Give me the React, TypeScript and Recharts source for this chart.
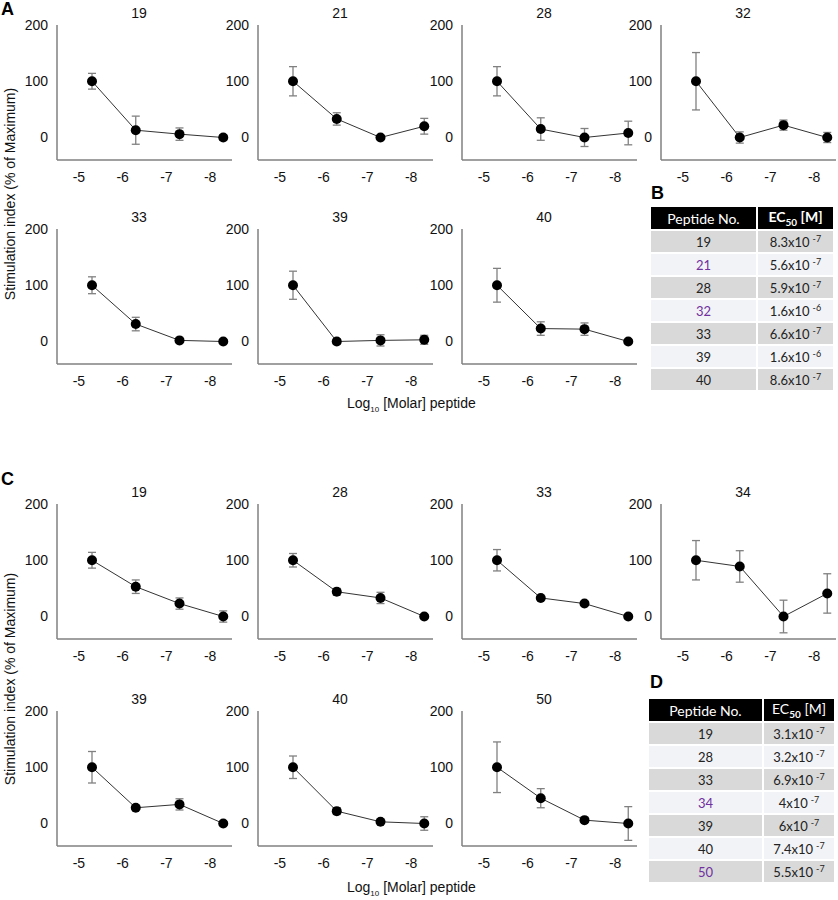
import React from "react";
import { LineChart, Line, XAxis, YAxis, ErrorBar } from "recharts";

// log10 molar concentrations, same for every panel
const logConc = [-5.3, -6.3, -7.3, -8.3];
const xTicks = [-5, -6, -7, -8];
const yTicks = [0, 100, 200];

// panel A
const titlesA = ["19", "21", "28", "32", "33", "39", "40"];
const valuesA = [
  [100, 13, 6, 0],
  [100, 33, 0, 20],
  [100, 15, 0, 8],
  [100, 0, 22, 0],
  [100, 31, 2, 0],
  [100, 0, 2, 3],
  [100, 23, 22, 0],
];
const errorsA = [
  [14, 25, 11, 5],
  [26, 11, 0, 14],
  [26, 20, 16, 21],
  [51, 10, 9, 9],
  [15, 12, 0, 0],
  [25, 5, 10, 8],
  [30, 12, 11, 0],
];

// panel C
const titlesC = ["19", "28", "33", "34", "39", "40", "50"];
const valuesC = [
  [100, 53, 23, 0],
  [100, 44, 33, 0],
  [100, 33, 23, 0],
  [100, 89, 0, 41],
  [100, 28, 34, 0],
  [100, 22, 3, 0],
  [100, 45, 6, 0],
];
const errorsC = [
  [14, 12, 10, 10],
  [12, 6, 10, 0],
  [19, 0, 0, 0],
  [35, 28, 29, 35],
  [28, 0, 10, 0],
  [20, 6, 0, 12],
  [45, 17, 4, 30],
];

// tables B and D
const peptidesB = ["19", "21", "28", "32", "33", "39", "40"];
const mantissaB = ["8.3", "5.6", "5.9", "1.6", "6.6", "1.6", "8.6"];
const exponentB = ["-7", "-7", "-7", "-6", "-7", "-6", "-7"];
const highlightB = ["21", "32"];

const peptidesD = ["19", "28", "33", "34", "39", "40", "50"];
const mantissaD = ["3.1", "3.2", "6.9", "4", "6", "7.4", "5.5"];
const exponentD = ["-7", "-7", "-7", "-7", "-7", "-7", "-7"];
const highlightD = ["34", "50"];

const colX = [57, 258, 462, 661];
const rowTop = [24.5, 229, 504, 711];

const FONT = "'Liberation Sans', Arial, sans-serif";
const TABLE_FONT = "Lato, 'Open Sans', sans-serif";

function Panel({ title, values, errors, x0, y0 }) {
  const data = logConc.map((c, i) => ({ x: c, y: values[i], err: errors[i] }));
  const tick = { fill: "#111", fontSize: 14, fontFamily: FONT };
  return (
    <div style={{ position: "absolute", left: x0 - 40, top: y0 - 10 }}>
      <div
        style={{
          position: "absolute",
          left: 40 + 82 - 30,
          width: 60,
          top: -9,
          textAlign: "center",
          fontFamily: FONT,
          fontSize: 14,
          lineHeight: "14px",
          color: "#111",
        }}
      >
        {title}
      </div>
      <LineChart
        width={220}
        height={175}
        data={data}
        margin={{ top: 10, right: 5, bottom: 0, left: 0 }}
      >
        <XAxis
          dataKey="x"
          type="number"
          domain={[-8.5, -4.5]}
          reversed
          ticks={xTicks}
          tick={tick}
          tickLine={false}
          tickSize={6}
          tickMargin={6}
          height={30}
          axisLine={{ stroke: "#808080", strokeWidth: 1.5 }}
          interval={0}
        />
        <YAxis
          type="number"
          domain={[-40, 200]}
          ticks={yTicks}
          tick={tick}
          tickLine={false}
          tickSize={6}
          tickMargin={3}
          width={40}
          axisLine={{ stroke: "#808080", strokeWidth: 1.5 }}
          interval={0}
        />
        <Line
          dataKey="y"
          stroke="#333"
          strokeWidth={1}
          isAnimationActive={false}
          dot={{ r: 5, fill: "#000", stroke: "#000", strokeWidth: 0 }}
          activeDot={false}
        >
          <ErrorBar
            dataKey="err"
            direction="y"
            width={4}
            stroke="#808080"
            strokeWidth={1.3}
            isAnimationActive={false}
          />
        </Line>
      </LineChart>
    </div>
  );
}

function EcTable({ peptides, mantissa, exponent, highlight, left, top, widths, boldHeader }) {
  const cell = {
    borderRight: "2px solid #fff",
    borderBottom: "2px solid #fff",
    textAlign: "center" as const,
    padding: 0,
    height: 21,
    fontSize: 13,
    color: "#222",
  };
  return (
    <table
      style={{
        position: "absolute",
        left,
        top,
        borderCollapse: "collapse",
        fontFamily: TABLE_FONT,
        tableLayout: "fixed",
        width: widths[0] + widths[1],
      }}
    >
      <colgroup>
        <col style={{ width: widths[0] }} />
        <col style={{ width: widths[1] }} />
      </colgroup>
      <thead>
        <tr style={{ background: "#000", color: "#fff" }}>
          <th style={{ ...cell, color: "#fff", fontWeight: 400, fontSize: 14, height: 22 }}>
            Peptide No.
          </th>
          <th
            style={{
              ...cell,
              color: "#fff",
              fontWeight: boldHeader ? 700 : 400,
              fontSize: 14,
              height: 22,
              borderRight: "none",
            }}
          >
            EC
            <sub style={{ fontSize: 10, fontWeight: 700 }}>50</sub> [M]
          </th>
        </tr>
      </thead>
      <tbody>
        {peptides.map((p, i) => (
          <tr key={p} style={{ background: i % 2 === 0 ? "#d9d9d9" : "#f2f3f6" }}>
            <td style={{ ...cell, color: highlight.includes(p) ? "#7030a0" : "#222" }}>{p}</td>
            <td style={{ ...cell, borderRight: "none" }}>
              {mantissa[i]}x10
              <sup style={{ fontSize: 9, marginLeft: 3 }}>{exponent[i]}</sup>
            </td>
          </tr>
        ))}
      </tbody>
    </table>
  );
}

function SectionLabel({ text, left, top }) {
  return (
    <div
      style={{
        position: "absolute",
        left,
        top,
        fontFamily: FONT,
        fontWeight: 700,
        fontSize: 18,
        lineHeight: "18px",
        color: "#000",
      }}
    >
      {text}
    </div>
  );
}

function YLabel({ cy }) {
  return (
    <div
      style={{
        position: "absolute",
        left: 10 - 120,
        top: cy - 8,
        width: 240,
        textAlign: "center",
        transform: "rotate(-90deg)",
        fontFamily: FONT,
        fontSize: 14,
        lineHeight: "16px",
        color: "#111",
        whiteSpace: "nowrap",
      }}
    >
      Stimulation index (% of Maximum)
    </div>
  );
}

function XLabel({ top }) {
  return (
    <div
      style={{
        position: "absolute",
        left: 347,
        top,
        fontFamily: FONT,
        fontSize: 14,
        lineHeight: "16px",
        color: "#111",
        whiteSpace: "nowrap",
      }}
    >
      Log<sub style={{ fontSize: 8 }}>10</sub> [Molar] peptide
    </div>
  );
}

function grid(titles, values, errors, rows) {
  return titles.map((t, i) => {
    const r = rows[Math.floor(i / 4)];
    const c = colX[i % 4];
    return (
      <Panel key={t + "-" + i} title={t} values={values[i]} errors={errors[i]} x0={c} y0={r} />
    );
  });
}

export default function App() {
  return (
    <div
      style={{
        position: "absolute",
        left: 0,
        top: 0,
        width: 838,
        height: 900,
        background: "#fff",
        overflow: "hidden",
      }}
    >
      <SectionLabel text="A" left={1} top={0} />
      <SectionLabel text="B" left={651} top={184} />
      <SectionLabel text="C" left={1} top={470} />
      <SectionLabel text="D" left={650} top={673} />

      {grid(titlesA, valuesA, errorsA, [rowTop[0], rowTop[1]])}
      {grid(titlesC, valuesC, errorsC, [rowTop[2], rowTop[3]])}

      <YLabel cy={194} />
      <YLabel cy={679} />
      <XLabel top={395} />
      <XLabel top={879} />

      <EcTable
        peptides={peptidesB}
        mantissa={mantissaB}
        exponent={exponentB}
        highlight={highlightB}
        left={651}
        top={207}
        widths={[106, 76]}
        boldHeader
      />
      <EcTable
        peptides={peptidesD}
        mantissa={mantissaD}
        exponent={exponentD}
        highlight={highlightD}
        left={649}
        top={699}
        widths={[114, 71]}
        boldHeader={false}
      />
    </div>
  );
}
